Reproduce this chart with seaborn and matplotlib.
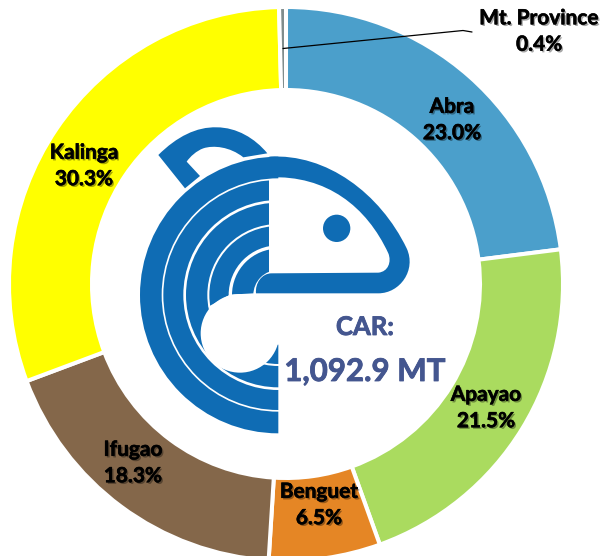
import matplotlib
matplotlib.use("Agg")
import matplotlib.pyplot as plt
import matplotlib.patheffects as pe
from matplotlib.patches import Wedge, Circle, PathPatch, Polygon
from matplotlib.path import Path
import seaborn as sns

# ================================================================
# DATA
# ================================================================
provinces = ["Abra", "Apayao", "Benguet", "Ifugao", "Kalinga", "Mt. Province"]
shares = [23.0, 21.5, 6.5, 18.3, 30.3, 0.4]
colors = ["#4B9FCB", "#AADB5F", "#E58625", "#84674A", "#FFFF00", "#7F8C8C"]
label_pos = [(452, 120), (486, 408), (319, 505), (133, 463), (84, 166), (539, 31.5)]
total_lines = ["CAR:", "1,092.9 MT"]

LOGO = "#0F6CB4"
TITLE = "#44568F"

sns.set_theme(style="white")
plt.rcParams["font.family"] = ["Lato", "DejaVu Sans"]

W, H = 601, 556
fig = plt.figure(figsize=(W / 100, H / 100), dpi=100)
ax = fig.add_axes([0, 0, 1, 1])


def py(y):
    return H - y


# ================================================================
# RING
# ================================================================
ax.pie(shares, colors=sns.color_palette(colors), startangle=90, counterclock=False,
       center=(286, py(284)), radius=277,
       wedgeprops=dict(width=83, edgecolor="white", linewidth=2.9))
ax.set_xlim(0, W)
ax.set_ylim(0, H)
ax.set_aspect("equal")
ax.axis("off")


# ================================================================
# LOGO (coordinates measured on a 3x crop starting at 140,120)
# ================================================================
def z(x, y):
    return (140 + x / 3, py(120 + y / 3))


def blob_path(cmds):
    verts, codes = [], []
    for code, pts in cmds:
        for p in pts:
            verts.append(z(*p))
            codes.append(code)
    return Path(verts, codes)


cx, cy = z(415, 525)
bands = [(415, 350, 90, 270), (345, 285, 90, 270), (277, 213, 90, 270),
         (207, 149, 90, 270), (139, 75, 90, 180)]
for r_out, r_in, a1, a2 in bands:
    ax.add_patch(Wedge((cx, cy), r_out / 3, a1, a2, width=(r_out - r_in) / 3,
                       facecolor=LOGO, edgecolor="none", zorder=3))

# white body of the shrimp and the cut along the head
ax.add_patch(Circle(z(300, 640), 118 / 3, facecolor="white", edgecolor="none", zorder=4))
ax.add_patch(Polygon([z(205, 560), z(270, 524), z(340, 520), z(420, 520), z(420, 640), z(300, 640)],
                     closed=True, facecolor="white", edgecolor="none", zorder=4))
ax.add_patch(Polygon([z(388, 177), z(420, 177), z(420, 530), z(388, 530)],
                     closed=True, facecolor="white", edgecolor="none", zorder=4))

head = blob_path([
    (Path.MOVETO, [(388, 110)]),
    (Path.CURVE4, [(560, 100), (720, 220), (800, 385)]),
    (Path.CURVE4, [(830, 450), (780, 520), (715, 520)]),
    (Path.LINETO, [(348, 520)]),
    (Path.CURVE4, [(345, 490), (365, 460), (395, 460)]),
    (Path.LINETO, [(715, 458)]),
    (Path.CURVE4, [(745, 455), (755, 425), (745, 400)]),
    (Path.CURVE4, [(680, 260), (560, 165), (388, 172)]),
    (Path.LINETO, [(388, 110)]),
])
ax.add_patch(PathPatch(head, facecolor=LOGO, edgecolor="none", zorder=5))

handle = blob_path([
    (Path.MOVETO, [(55, 105)]),
    (Path.CURVE4, [(110, 50), (170, 20), (230, 22)]),
    (Path.CURVE4, [(290, 22), (345, 55), (382, 100)]),
    (Path.LINETO, [(310, 112)]),
    (Path.CURVE4, [(270, 80), (220, 75), (190, 85)]),
    (Path.CURVE4, [(170, 92), (150, 110), (140, 125)]),
    (Path.LINETO, [(180, 168)]),
    (Path.LINETO, [(135, 205)]),
    (Path.LINETO, [(55, 105)]),
])
ax.add_patch(PathPatch(handle, facecolor=LOGO, edgecolor="none", zorder=3))
ax.add_patch(Circle(z(590, 325), 41 / 3, facecolor=LOGO, edgecolor="none", zorder=5))

# ================================================================
# TEXT
# ================================================================
shadow = [pe.SimplePatchShadow(offset=(1.2, -1.2), shadow_rgbFace="#000000", alpha=0.35),
          pe.withStroke(linewidth=0.4, foreground="black")]
for name, share, (x, y) in zip(provinces, shares, label_pos):
    ax.text(x, py(y), f"{name}\n{share:.1f}%", ha="center", va="center", fontsize=15,
            fontweight="bold", color="black", linespacing=1.4, path_effects=shadow, zorder=6)

ax.plot([283, 463, 472], [py(48.5), py(30.5), py(32)], color="black", lw=0.9, zorder=6)

title_stroke = [pe.withStroke(linewidth=0.6, foreground=TITLE)]
ax.text(365, py(327), total_lines[0], ha="center", va="center", fontsize=18.5,
        fontweight="bold", color=TITLE, path_effects=title_stroke, zorder=6)
ax.text(365, py(372), total_lines[1], ha="center", va="center", fontsize=22.5,
        fontweight="bold", color=TITLE, path_effects=title_stroke, zorder=6)

fig.savefig("out.png", dpi=100)
